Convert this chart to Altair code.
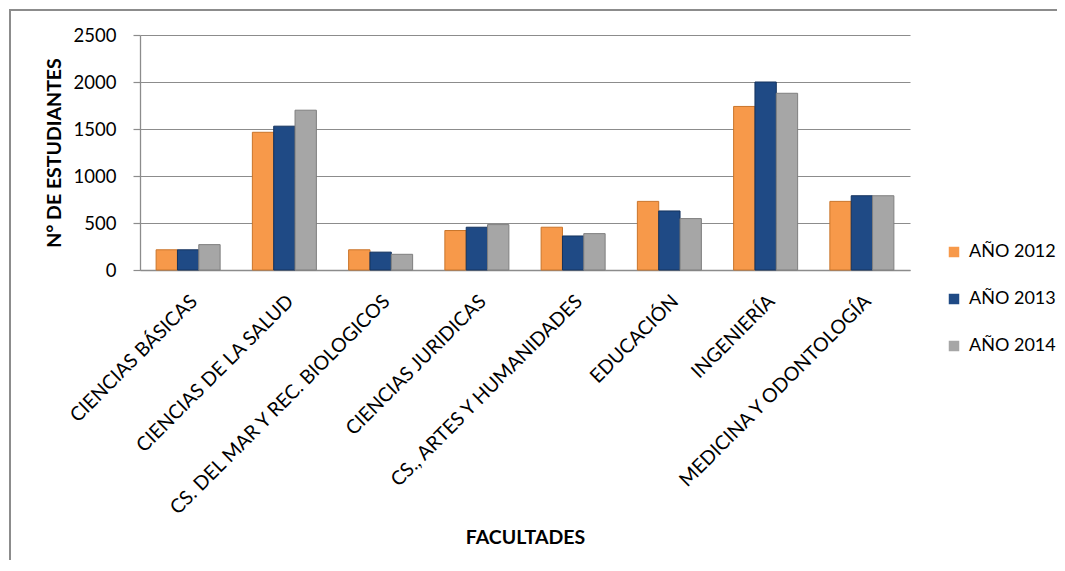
import altair as alt
import pandas as pd

facultades = [
    "CIENCIAS BÁSICAS",
    "CIENCIAS DE LA SALUD",
    "CS. DEL MAR Y REC. BIOLOGICOS",
    "CIENCIAS JURIDICAS",
    "CS., ARTES Y HUMANIDADES",
    "EDUCACIÓN",
    "INGENIERÍA",
    "MEDICINA Y ODONTOLOGÍA",
]
series = ["AÑO 2012", "AÑO 2013", "AÑO 2014"]
anio_2012 = [215, 1465, 215, 420, 455, 730, 1740, 730]
anio_2013 = [215, 1530, 190, 455, 362, 628, 2000, 790]
anio_2014 = [270, 1700, 167, 483, 387, 547, 1880, 790]
y_ticks = [0, 500, 1000, 1500, 2000, 2500]

colors = ["#F7994A", "#1F4A85", "#A6A6A6"]
strokes = ["#C9742A", "#15335E", "#7F7F7F"]

rows = []
for s, vals in zip(series, [anio_2012, anio_2013, anio_2014]):
    for f, v in zip(facultades, vals):
        rows.append({"facultad": f, "serie": s, "valor": v})
df = pd.DataFrame(rows)

FONT = "Lato"
GRAY = "#8C8C8C"

bars = alt.Chart(df).mark_bar(strokeWidth=1).encode(
    x=alt.X(
        "facultad:N",
        sort=facultades,
        scale=alt.Scale(paddingInner=0.335, paddingOuter=0.1675),
        axis=alt.Axis(
            title="FACULTADES",
            labelAngle=-45,
            labelAlign="right",
            labelBaseline="middle",
            labelFont=FONT,
            labelFontSize=19.5,
            labelColor="#000000",
            labelPadding=28,
            labelOffset=6,
            labelLimit=400,
            ticks=False,
            tickSize=0,
            domainColor=GRAY,
            domainWidth=1.3,
            titleFont=FONT,
            titleFontSize=19.5,
            titleFontWeight="bold",
            titleColor="#000000",
            titleY=267,
            titleBaseline="middle",
        ),
    ),
    xOffset=alt.XOffset("serie:N", sort=series, scale=alt.Scale(paddingInner=0, paddingOuter=0)),
    y=alt.Y(
        "valor:Q",
        scale=alt.Scale(domain=[0, 2500], nice=False),
        axis=alt.Axis(
            title="N° DE ESTUDIANTES",
            values=y_ticks,
            format="d",
            labelFont=FONT,
            labelFontSize=18.5,
            labelColor="#000000",
            labelPadding=17,
            tickSize=7,
            tickColor=GRAY,
            tickWidth=1.2,
            domainColor=GRAY,
            domainWidth=1.3,
            gridColor=GRAY,
            gridWidth=1.2,
            titleFont=FONT,
            titleFontSize=19.5,
            titleFontWeight="bold",
            titleColor="#000000",
            titleX=-86,
            titleY=117.5,
            titleAngle=-90,
            titleBaseline="middle",
            titleAlign="center",
        ),
    ),
    color=alt.Color(
        "serie:N",
        sort=series,
        scale=alt.Scale(domain=series, range=colors),
        legend=alt.Legend(
            title=None,
            orient="none",
            legendX=805,
            legendY=208,
            symbolType="square",
            symbolSize=110,
            symbolStrokeWidth=0,
            labelFont=FONT,
            labelFontSize=18,
            labelColor="#000000",
            rowPadding=29,
            labelOffset=6,
        ),
    ),
    stroke=alt.Stroke(
        "serie:N",
        sort=series,
        scale=alt.Scale(domain=series, range=strokes),
        legend=None,
    ),
)

frame_left = alt.Chart(df).mark_rule(color="#8C8C8C", strokeWidth=2).encode(
    x=alt.value(-130), y=alt.value(-25), y2=alt.value(560)
)
frame_top = alt.Chart(df).mark_rule(color="#8C8C8C", strokeWidth=2).encode(
    x=alt.value(-131), x2=alt.value(917), y=alt.value(-25), y2=alt.value(-25)
)

chart = (
    alt.layer(bars, frame_left, frame_top)
    .properties(
        width=770,
        height=235,
        autosize=alt.AutoSizeParams(type="none"),
        padding={"left": 132, "top": 27, "right": 147, "bottom": 290},
        background="#FFFFFF",
    )
    .configure_view(stroke=None)
)

chart.save("out.html", embed_options={"renderer": "svg", "actions": False})
